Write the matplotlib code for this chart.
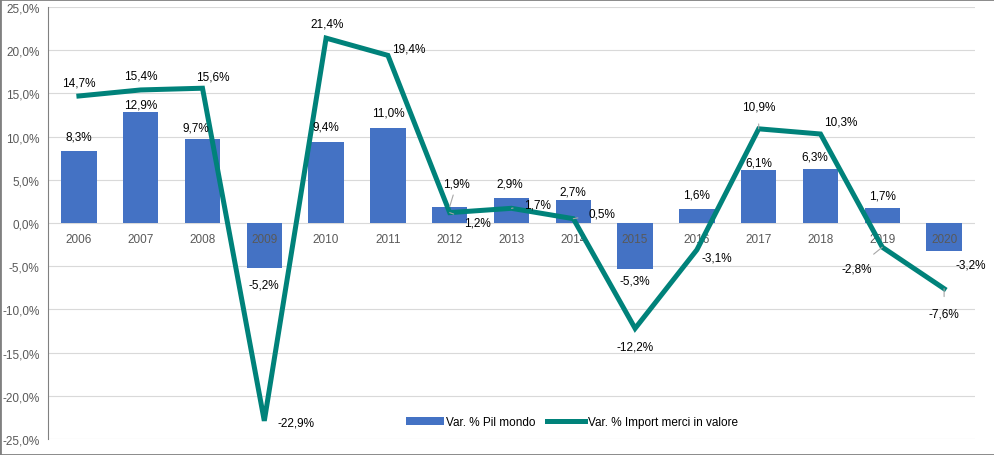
import numpy as np
import matplotlib.pyplot as plt
from matplotlib.patches import Rectangle

plt.rcParams['font.family'] = ['Liberation Sans', 'DejaVu Sans']

anni = ['2006', '2007', '2008', '2009', '2010', '2011', '2012', '2013',
        '2014', '2015', '2016', '2017', '2018', '2019', '2020']
pil = [8.3, 12.9, 9.7, -5.2, 9.4, 11.0, 1.9, 2.9, 2.7, -5.3, 1.6, 6.1, 6.3, 1.7, -3.2]
imp = [14.7, 15.4, 15.6, -22.9, 21.4, 19.4, 1.2, 1.7, 0.5, -12.2, -3.1, 10.9, 10.3, -2.8, -7.6]

# offset delle etichette (pixel) e linea guida si/no
off_pil = [(0, 15), (0, 7), (-7, 12), (0, -17), (0, 15), (0, 15), (7, 23), (-2, 14),
           (0, 8), (0, -12), (0, 15), (0, 8), (-6, 12), (0, 13), (27, -14)]
lead_pil = [False]*6 + [True] + [False]*8
off_imp = [(0, 13), (0, 14), (10, 12), (32, -2), (1, 15), (21, 7), (28, -10), (26, 4),
           (29, 5), (0, -18), (20, -8), (0, 22), (20, 13), (-26, -21), (0, -25)]
lead_imp = [False]*6 + [True, True, True] + [False]*2 + [True, False, True, True]

blu = '#4472C4'
verde = '#00827A'

fig = plt.figure(figsize=(9.95, 4.56), dpi=100)
ax = fig.add_axes([48/995, 16/456, (975-48)/995, (440-8)/456])
x = np.arange(len(anni))

b = ax.bar(x, pil, width=0.57, color=blu, label='Var. % Pil mondo', zorder=2)
l, = ax.plot(x, imp, color=verde, lw=3.6, label='Var. % Import merci in valore', zorder=3,
             solid_joinstyle='miter')

def fmt(v):
    return ('%.1f%%' % v).replace('.', ',')

for i in range(len(anni)):
    ap = dict(arrowstyle='-', color='#A6A6A6', lw=0.8, shrinkA=2, shrinkB=0) if lead_pil[i] else None
    ax.annotate(fmt(pil[i]), (x[i], pil[i]), xytext=off_pil[i], textcoords='offset pixels',
                ha='center', va='center', fontsize=8.5, color='#000000', arrowprops=ap, zorder=4)
    ap = dict(arrowstyle='-', color='#A6A6A6', lw=0.8, shrinkA=6, shrinkB=0) if lead_imp[i] else None
    ax.annotate(fmt(imp[i]), (x[i], imp[i]), xytext=off_imp[i], textcoords='offset pixels',
                ha='center', va='center', fontsize=8.5, color='#000000', arrowprops=ap, zorder=4)
    ax.annotate(anni[i], (x[i], 0), xytext=(0, -16), textcoords='offset pixels',
                ha='center', va='center', fontsize=8.5, color='#595959', zorder=2.5)

ax.set_xlim(-0.5, len(anni) - 0.5)
ax.set_ylim(-25, 25)
ax.set_yticks(np.arange(-25, 26, 5))
ax.set_yticklabels([fmt(v) for v in np.arange(-25, 26, 5)], fontsize=8.5, color='#595959')
ax.set_xticks([])
ax.tick_params(axis='y', length=0, pad=6)
ax.grid(axis='y', color='#D9D9D9', lw=0.8, zorder=0)
for s in ['top', 'right', 'bottom']:
    ax.spines[s].set_visible(False)
ax.spines['left'].set_color('#808080')

ax.legend([b, l], ['Var. % Pil mondo', 'Var. % Import merci in valore'],
          loc='lower center', bbox_to_anchor=(0.565, 0.0), ncol=2, frameon=False,
          fontsize=8.5, handlelength=3.2, handletextpad=0.2, columnspacing=1.0)

fig.patches.append(Rectangle((0, 0), 1, 1, transform=fig.transFigure, fill=False,
                             edgecolor='#808080', lw=2))
fig.savefig('out.png', dpi=100)
